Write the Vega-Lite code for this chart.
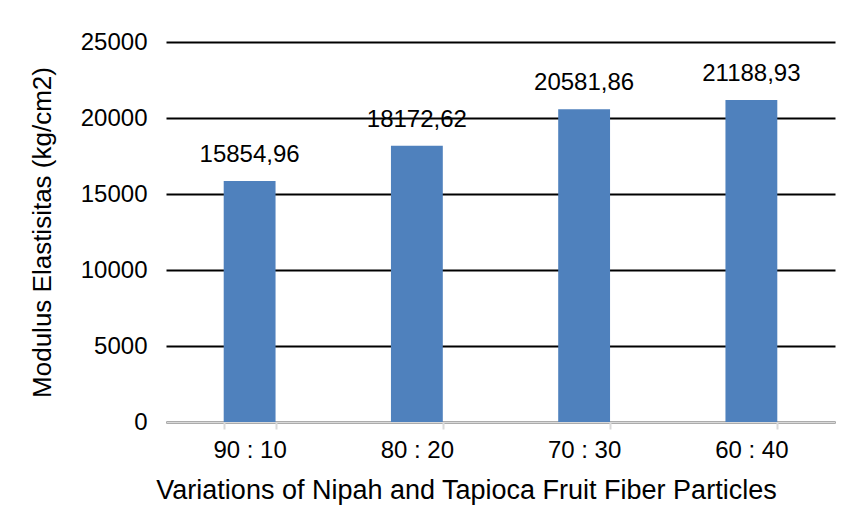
{
  "$schema": "https://vega.github.io/schema/vega-lite/v6.json",
  "width": 669,
  "height": 380,
  "autosize": {"type": "none"},
  "padding": {"left": 166, "top": 42, "right": 13, "bottom": 102},
  "background": "white",
  "config": {"view": {"stroke": null}, "font": "Liberation Sans"},
  "data": {"values": [
    {"ratio": "90 : 10", "value": 15854.96, "label": "15854,96"},
    {"ratio": "80 : 20", "value": 18172.62, "label": "18172,62"},
    {"ratio": "70 : 30", "value": 20581.86, "label": "20581,86"},
    {"ratio": "60 : 40", "value": 21188.93, "label": "21188,93"}
  ]},
  "encoding": {
    "x": {"field": "ratio", "type": "nominal", "sort": null,
      "scale": {"paddingInner": 0.69, "paddingOuter": 0.345},
      "axis": {"title": "Variations of Nipah and Tapioca Fruit Fiber Particles", "labelAngle": 0,
        "labelFont": "Liberation Sans", "labelFontSize": 24, "labelColor": "#000", "labelPadding": 9,
        "titleFont": "Liberation Sans", "titleFontSize": 27, "titleFontWeight": "normal", "titleColor": "#000", "titlePadding": 15,
        "titleX": 300, "titleAlign": "center",
        "domainColor": "#d9d9d9", "domainWidth": 2, "tickColor": "#d9d9d9", "tickWidth": 2, "tickSize": 7, "tickBand": "extent"}},
    "y": {"field": "value", "type": "quantitative",
      "scale": {"domain": [0, 25000]},
      "axis": {"title": "Modulus Elastisitas (kg/cm2)", "values": [0, 5000, 10000, 15000, 20000, 25000], "format": "d",
        "labelFont": "Liberation Sans", "labelFontSize": 24, "labelColor": "#000", "labelPadding": 19,
        "titleFont": "Liberation Sans", "titleFontSize": 26, "titleFontWeight": "normal", "titleColor": "#000", "titlePadding": 25,
        "domain": false, "ticks": false, "grid": true, "gridColor": "#000", "gridWidth": 2}}
  },
  "layer": [
    {"mark": {"type": "bar", "color": "#4F81BD"}},
    {"mark": {"type": "text", "dy": -26, "font": "Liberation Sans", "fontSize": 24, "color": "#000"},
      "encoding": {"text": {"field": "label"}}}
  ]
}
